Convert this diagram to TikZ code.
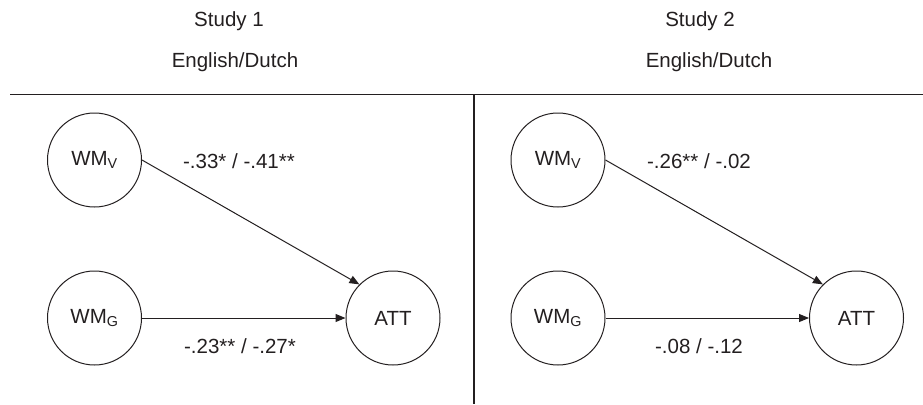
\documentclass[tikz,border=0pt]{standalone}
\usepackage{fontspec}
\setmainfont{Liberation Sans}
\usetikzlibrary{arrows.meta}
\definecolor{ink}{HTML}{231F20}
\begin{document}
\begin{tikzpicture}[x=1pt,y=-1pt,
  every node/.style={text=ink, font=\fontsize{20.5}{24}\selectfont},
  latent/.style={draw=ink, line width=1pt, circle, minimum size=94pt, inner sep=0pt},
  path/.style={draw=ink, line width=1pt, -{Triangle[length=10pt,width=8pt]}},
  rule/.style={draw=ink, line width=1.2pt}]
  \useasboundingbox (0,0) rectangle (923,404);

  % panel headings and dividers
  \node (s1) at (229,21) {Study 1};
  \node (l1) at (235,62) {English/Dutch};
  \node (s2) at (700,21) {Study 2};
  \node (l2) at (709,62) {English/Dutch};
  \coordinate (hl) at (10,94.5);
  \coordinate (hr) at (923,94.5);
  \coordinate (vt) at (474,94.5);
  \coordinate (vb) at (474,404);
  \draw[rule] (hl) -- (hr);
  \draw[rule] (vt) -- (vb);

  % Study 1 model
  \node[latent] (v1) at (94.5,160) {WM\textsubscript{V}};
  \node[latent] (g1) at (94.5,318) {WM\textsubscript{G}};
  \node[latent] (a1) at (393,318) {ATT};
  \draw[path] (v1.east) -- (a1.north west);
  \draw[path] (g1.east) -- (a1.west);
  \node (e1) at (239,161) {-.33* / -.41**};
  \node (f1) at (240,346) {-.23** / -.27*};

  % Study 2 model
  \node[latent] (v2) at (558,160) {WM\textsubscript{V}};
  \node[latent] (g2) at (558,318) {WM\textsubscript{G}};
  \node[latent] (a2) at (856.5,318) {ATT};
  \draw[path] (v2.east) -- (a2.north west);
  \draw[path] (g2.east) -- (a2.west);
  \node (e2) at (699,161) {-.26** / -.02};
  \node (f2) at (699,346) {-.08 / -.12};
\end{tikzpicture}
\end{document}
